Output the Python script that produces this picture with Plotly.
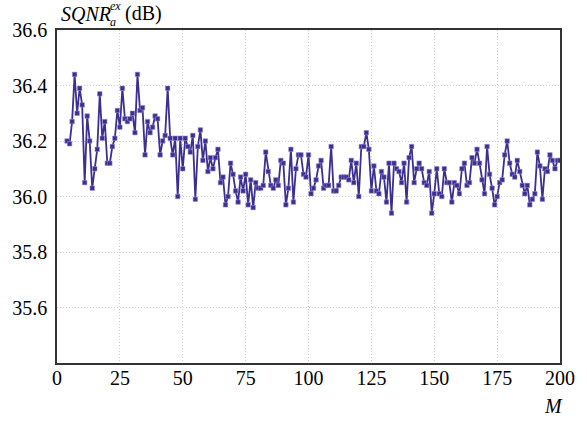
import plotly.graph_objects as go

M = list(range(4, 201))
sqnr = [
    36.20, 36.19, 36.27, 36.44, 36.30, 36.39, 36.33, 36.05, 36.29, 36.20,  # 4-13
    36.03, 36.10, 36.17, 36.37, 36.21, 36.27, 36.12, 36.12, 36.18, 36.21,  # 14-23
    36.31, 36.25, 36.39, 36.28, 36.27, 36.28, 36.30, 36.23, 36.44, 36.31,  # 24-33
    36.32, 36.15, 36.27, 36.23, 36.25, 36.29, 36.28, 36.15, 36.20, 36.22,  # 34-43
    36.39, 36.21, 36.15, 36.21, 36.00, 36.21, 36.10, 36.21, 36.18, 36.16,  # 44-53
    36.22, 35.99, 36.18, 36.24, 36.13, 36.20, 36.09, 36.14, 36.10, 36.14,  # 54-63
    36.17, 36.05, 36.07, 35.97, 36.00, 36.12, 36.08, 36.02, 35.98, 36.07,  # 64-73
    36.02, 36.08, 35.97, 36.06, 35.96, 36.05, 36.03, 36.03, 36.04, 36.16,  # 74-83
    36.09, 36.04, 36.03, 36.06, 36.04, 36.13, 36.12, 35.97, 36.03, 36.17,  # 84-93
    35.98, 36.10, 36.15, 36.15, 36.08, 36.07, 36.15, 36.01, 36.03, 36.06,  # 94-103
    36.11, 36.13, 36.03, 36.04, 36.04, 36.18, 36.02, 36.02, 36.04, 36.07,  # 104-113
    36.07, 36.07, 36.06, 36.13, 36.05, 36.12, 36.00, 36.18, 36.18, 36.23,  # 114-123
    36.17, 36.02, 36.11, 36.02, 36.01, 36.09, 36.07, 35.98, 36.12, 35.94,  # 124-133
    36.12, 36.10, 36.09, 36.05, 36.12, 35.98, 36.14, 36.18, 36.05, 36.10,  # 134-143
    36.12, 36.10, 36.05, 36.04, 36.09, 35.94, 36.01, 36.10, 36.01, 36.00,  # 144-153
    36.10, 36.05, 36.05, 35.98, 36.05, 36.04, 36.01, 36.10, 36.12, 36.04,  # 154-163
    36.05, 36.14, 36.12, 36.17, 36.12, 36.06, 36.01, 36.18, 36.08, 36.03,  # 164-173
    35.97, 36.00, 36.05, 36.06, 36.15, 36.20, 36.12, 36.08, 36.07, 36.13,  # 174-183
    36.09, 36.04, 36.01, 36.04, 35.97, 35.99, 36.01, 36.16, 36.11, 35.99,  # 184-193
    36.10, 36.09, 36.15, 36.13, 36.10, 36.13, 36.13,                      # 194-200
]
x_ticks = [0, 25, 50, 75, 100, 125, 150, 175, 200]
y_ticks = [35.6, 35.8, 36.0, 36.2, 36.4, 36.6]
y_ticktext = ["35.6", "35.8", "36.0", "36.2", "36.4", "36.6"]

W, H = 587, 421
L, R, T, B = 52, 18, 30, 58
pw, ph = W - L - R, H - T - B

def px(xp):
    return (xp - L) / pw

def py(yp):
    return (H - B - yp) / ph

FONT = "Liberation Serif"
col = "#3b2f8f"

fig = go.Figure()
fig.add_trace(go.Scatter(
    x=M, y=sqnr, mode="lines+markers",
    line=dict(color=col, width=1.8),
    marker=dict(symbol="square", size=4.5, color=col,
                line=dict(color="rgba(150,140,210,0.7)", width=0.8)),
    showlegend=False, hoverinfo="skip",
))

axis_common = dict(
    showline=True, mirror=True, linecolor="#333333", linewidth=1.5,
    showgrid=True, gridcolor="#cfcfcf", griddash="1px,2px", gridwidth=1,
    zeroline=False, tickfont=dict(family=FONT, size=20, color="black"),
)
fig.update_xaxes(range=[0, 200], tickvals=x_ticks, ticks="", ticklabelstandoff=-4,
                 **axis_common)
fig.update_yaxes(range=[35.4, 36.6], tickvals=y_ticks, ticktext=y_ticktext,
                 ticks="outside", ticklen=4, tickcolor="rgba(0,0,0,0)",
                 **axis_common)

ann = []
ann.append(dict(text="<i>SQNR</i>", x=px(55), y=py(14), xanchor="left", yanchor="middle",
                font=dict(family=FONT, size=20, color="black")))
ann.append(dict(text="<i>ex</i>", x=px(105), y=py(6), xanchor="left", yanchor="middle",
                font=dict(family=FONT, size=12, color="black")))
ann.append(dict(text="<i>a</i>", x=px(105), y=py(22), xanchor="left", yanchor="middle",
                font=dict(family=FONT, size=12, color="black")))
ann.append(dict(text="(dB)", x=px(121), y=py(14), xanchor="left", yanchor="middle",
                font=dict(family=FONT, size=20, color="black")))
ann.append(dict(text="<i>M</i>", x=px(562), y=py(406), xanchor="center", yanchor="middle",
                font=dict(family=FONT, size=20, color="black")))
for a in ann:
    a.update(xref="paper", yref="paper", showarrow=False, borderpad=0)

fig.update_layout(
    width=W, height=H, margin=dict(l=L, r=R, t=T, b=B),
    paper_bgcolor="white", plot_bgcolor="white",
    annotations=ann,
)
fig.write_html("out.html")
